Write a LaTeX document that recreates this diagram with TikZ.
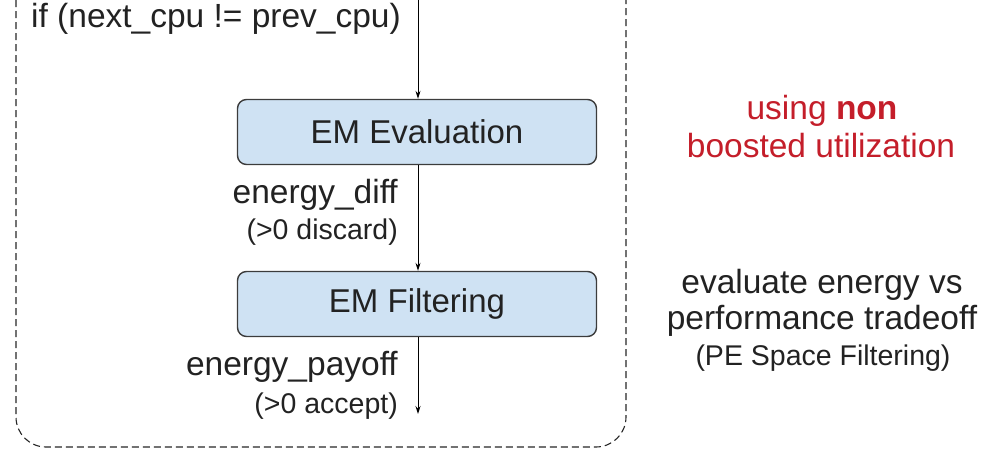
\documentclass[tikz,border=0pt]{standalone}
\usepackage{fontspec}
\setmainfont{Liberation Sans}
\usetikzlibrary{arrows.meta}
\definecolor{boxfill}{HTML}{CFE2F3}
\definecolor{boxdraw}{HTML}{3C3C3C}
\definecolor{redtxt}{HTML}{C41E2A}
\definecolor{txt}{HTML}{222222}
\begin{document}
\begin{tikzpicture}[x=1pt,y=-1pt,
  emBox/.style={draw=boxdraw,line width=1.4pt,fill=boxfill,rounded corners=9pt,minimum width=359pt,minimum height=65pt,inner sep=0pt,font=\fontsize{33}{36}\selectfont,text=txt},
  lbl/.style={anchor=base east,inner sep=0pt,font=\fontsize{33.5}{36}\selectfont,text=txt},
  sub/.style={anchor=base east,inner sep=0pt,font=\fontsize{28.5}{30}\selectfont,text=txt},
  flow/.style={draw=black,line width=1pt,-{Stealth[length=8pt,width=5pt]}},
  note/.style={anchor=base,inner sep=0pt,font=\fontsize{33.5}{36}\selectfont,text=txt}]
\useasboundingbox (0,0) rectangle (992,453);
\draw[line width=1.1pt,dash pattern=on 7pt off 4pt,rounded corners=30pt,draw=black!85] (16,0) -- (16,447) -- (626,447) -- (626,0);
\node[anchor=base west,inner sep=0pt,font=\fontsize{33.5}{36}\selectfont,text=txt] (cond) at (31,27) {if (next\_cpu != prev\_cpu)};
\coordinate (top) at (418,0);
\node[emBox] (eval) at (417,132) {EM Evaluation};
\node[emBox] (filt) at (417,304) {EM Filtering};
\coordinate (end) at (418,414);
\draw[flow] (top) -- (eval.north -| top);
\draw[flow] (eval.south -| top) -- (filt.north -| top);
\draw[flow] (filt.south -| top) -- (end);
\node[lbl] (ediff) at (398,203) {energy\_diff};
\node[sub] (disc) at (398,239) {(>0 discard)};
\node[lbl] (epay) at (398,375) {energy\_payoff};
\node[sub] (acc) at (398,413) {(>0 accept)};
\node[note,text=redtxt] (red1) at (822,119) {using \textbf{non}};
\node[note,text=redtxt] (red2) at (821,157) {boosted utilization};
\node[note] (tr1) at (822,293) {evaluate energy vs};
\node[note] (tr2) at (822,329) {performance tradeoff};
\node[note,font=\fontsize{28.5}{30}\selectfont] (pe) at (823,365) {(PE Space Filtering)};
\end{tikzpicture}
\end{document}
